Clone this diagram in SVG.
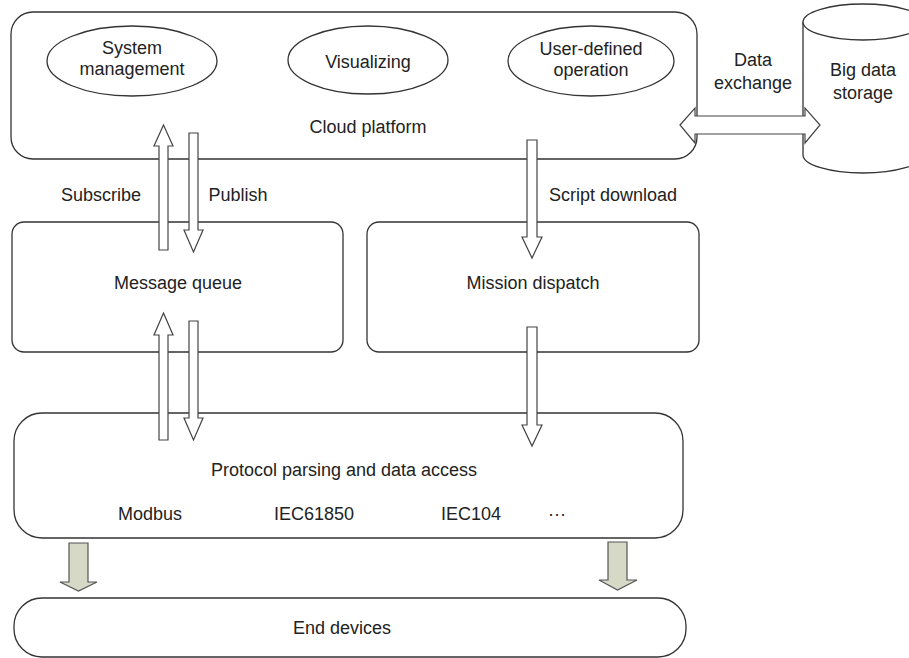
<svg xmlns="http://www.w3.org/2000/svg" width="909" height="658" viewBox="0 0 909 658">
<style>
.box{fill:#fff;stroke:#333;stroke-width:1.3}
.arr{fill:#fff;stroke:#444;stroke-width:1.2;stroke-linejoin:miter}
.garr{fill:#d5d9c6;stroke:#555;stroke-width:1.2}
text{font-family:"Liberation Sans",Arial,sans-serif;font-size:18px;fill:#222;text-anchor:middle}
</style>
<rect width="909" height="658" fill="#fff"/>
<g id="cloud-platform">
<rect class="box" x="11" y="12" width="686" height="147" rx="22" ry="22"/>
<text x="368" y="133">Cloud platform</text>
</g>
<g id="system-management">
<ellipse class="box" cx="132" cy="61" rx="85" ry="35"/>
<text x="132" y="54">System</text>
<text x="132" y="75">management</text>
</g>
<g id="visualizing">
<ellipse class="box" cx="368" cy="60" rx="80" ry="34"/>
<text x="368" y="68">Visualizing</text>
</g>
<g id="user-defined-operation">
<ellipse class="box" cx="591" cy="61" rx="83" ry="35"/>
<text x="591" y="55">User-defined</text>
<text x="591" y="76">operation</text>
</g>
<g id="big-data-storage">
<path class="box" d="M803,22 L803,155 A60,18 0 0 0 923,155 L923,22"/>
<ellipse class="box" cx="863" cy="22" rx="60" ry="18"/>
<text x="863" y="76">Big data</text>
<text x="863" y="99">storage</text>
</g>
<g id="message-queue">
<rect class="box" x="12" y="222" width="331" height="130" rx="12" ry="12"/>
<text x="178" y="289">Message queue</text>
</g>
<g id="mission-dispatch">
<rect class="box" x="367" y="222" width="332" height="130" rx="12" ry="12"/>
<text x="533" y="289">Mission dispatch</text>
</g>
<g id="protocol-parsing">
<rect class="box" x="14" y="413" width="669" height="125" rx="28" ry="28"/>
<text x="344" y="476">Protocol parsing and data access</text>
<text x="150" y="520">Modbus</text>
<text x="314" y="520">IEC61850</text>
<text x="471" y="520">IEC104</text>
<text x="557" y="520">···</text>
</g>
<g id="end-devices">
<rect class="box" x="14" y="598" width="672" height="59" rx="28" ry="28"/>
<text x="342" y="634">End devices</text>
</g>
<g id="connectors">
<polygon class="arr" points="163.5,125 173,146 168,146 168,250 159,250 159,146 154,146"/>
<polygon class="arr" points="189,133 198,133 198,230 203,230 193.5,252 184,230 189,230"/>
<polygon class="arr" points="163.5,313 173,335 168,335 168,440 159,440 159,335 154,335"/>
<polygon class="arr" points="189,321 198,321 198,418 203,418 193.5,440 184,418 189,418"/>
<polygon class="arr" points="527,140 537,140 537,237 542,237 532,258 522,237 527,237"/>
<polygon class="arr" points="527,327 537,327 537,425 542,425 532,446 522,425 527,425"/>
<polygon class="arr" points="680,125 695,108 695,116 805,116 805,108 820,125 805,143 805,134 695,134 695,143"/>
<polygon class="garr" points="69,543 88,543 88,582 97,582 78.5,591 60,582 69,582"/>
<polygon class="garr" points="608,542 627,542 627,580 637,580 617.5,590 599,580 608,580"/>
<text x="101" y="201">Subscribe</text>
<text x="238" y="201">Publish</text>
<text x="613" y="201">Script download</text>
<text x="753" y="66">Data</text>
<text x="753" y="89">exchange</text>
</g>
</svg>
